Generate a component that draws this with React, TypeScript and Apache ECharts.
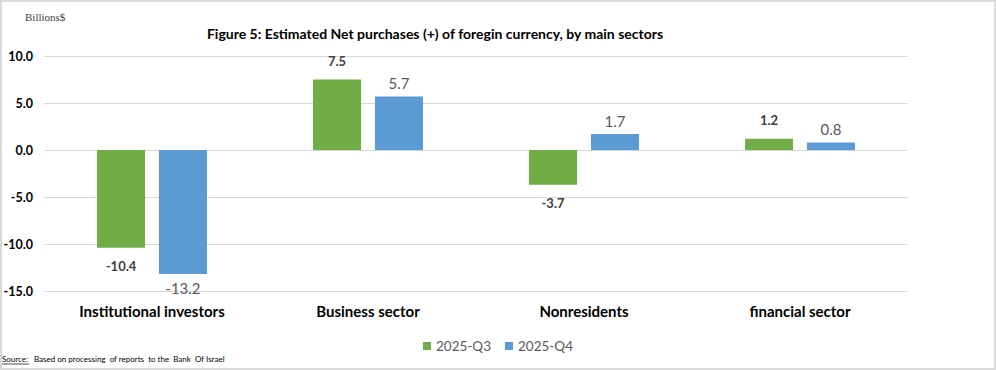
import React, { useEffect, useRef } from "react";
import * as echarts from "echarts";

const categories = ["Institutional investors", "Business sector", "Nonresidents", "financial sector"];
const seriesNames = ["2025-Q3", "2025-Q4"];
const q3Values = [-10.4, 7.5, -3.7, 1.2];
const q4Values = [-13.2, 5.7, 1.7, 0.8];
const titleText = "Figure 5: Estimated Net purchases (+) of foregin currency, by main sectors";
const unitText = "Billions$";
const sourceLabel = "Source:";
const sourceText = "Based on processing  of reports  to the  Bank  Of Israel";

const FONT = "Lato, 'Open Sans', sans-serif";

export default function App() {
  const ref = useRef<HTMLDivElement>(null);
  useEffect(() => {
    if (!ref.current) return;
    const chart = echarts.init(ref.current, null, { renderer: "svg" });
    const mk = (vals: number[], dist: number) =>
      vals.map((v) => ({ value: v, label: { position: v < 0 ? "bottom" : "top", distance: dist } }));
    chart.setOption({
      animation: false,
      textStyle: { fontFamily: FONT },
      grid: { left: 44, right: 88, top: 56, bottom: 79 },
      title: {
        text: titleText,
        left: 430,
        textAlign: "center",
        top: 21,
        textStyle: { fontSize: 14, fontWeight: "bold", color: "#000", fontFamily: FONT },
      },
      legend: {
        data: seriesNames,
        left: "center",
        top: 334,
        icon: "rect",
        itemWidth: 8,
        itemHeight: 8,
        itemGap: 14,
        textStyle: { fontSize: 13.5, color: "#595959", fontFamily: FONT },
      },
      xAxis: {
        type: "category",
        data: categories,
        axisLine: { show: false },
        axisTick: { show: false },
        axisLabel: { fontSize: 15, fontWeight: "bold", color: "#000", margin: 12, fontFamily: FONT },
      },
      yAxis: {
        type: "value",
        min: -15,
        max: 10,
        interval: 5,
        axisLine: { show: false },
        axisTick: { show: false },
        splitLine: { lineStyle: { color: "#d9d9d9", width: 1 } },
        axisLabel: {
          fontSize: 12.5,
          fontWeight: "bold",
          color: "#000",
          margin: 11,
          fontFamily: FONT,
          formatter: (v: number) => v.toFixed(1),
        },
      },
      series: [
        {
          name: seriesNames[0],
          type: "bar",
          data: mk(q3Values, 12),
          barWidth: 48,
          barGap: "29%",
          itemStyle: { color: "#70AD47" },
          label: {
            show: true,
            fontSize: 13,
            fontWeight: "bold",
            color: "#404040",
            fontFamily: FONT,
            formatter: (p: any) => Number(p.value).toFixed(1),
          },
        },
        {
          name: seriesNames[1],
          type: "bar",
          data: mk(q4Values, 6),
          barWidth: 48,
          itemStyle: { color: "#5B9BD5" },
          label: {
            show: true,
            fontSize: 15,
            color: "#595959",
            fontFamily: FONT,
            formatter: (p: any) => Number(p.value).toFixed(1),
          },
        },
      ],
      graphic: [
        {
          type: "text",
          left: 25,
          top: 11,
          style: { text: unitText, font: "11px 'Liberation Serif', 'DejaVu Serif', serif", fill: "#404040" },
        },
        {
          type: "text",
          left: 2,
          top: 355,
          style: { text: sourceLabel, font: "8px " + FONT, fill: "#000" },
        },
        {
          type: "line",
          shape: { x1: 2, y1: 364, x2: 29, y2: 364 },
          style: { stroke: "#000", lineWidth: 0.7 },
        },
        {
          type: "text",
          left: 34,
          top: 355,
          style: { text: sourceText, font: "8px " + FONT, fill: "#000" },
        },
      ],
    });
    return () => chart.dispose();
  }, []);
  return (
    <div
      style={{
        position: "fixed",
        left: 0,
        top: 0,
        width: 996,
        height: 370,
        boxSizing: "border-box",
        border: "2px solid #d9d9d9",
        background: "#fff",
      }}
    >
      <div ref={ref} style={{ position: "absolute", left: -2, top: -2, width: 996, height: 370 }} />
    </div>
  );
}
